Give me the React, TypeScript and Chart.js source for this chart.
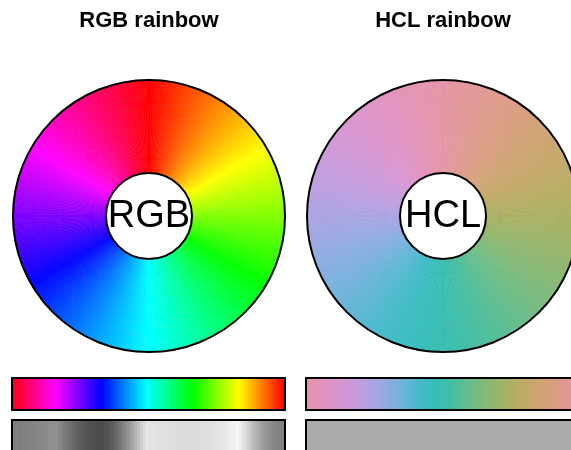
import React, { useEffect, useRef } from "react";
import { Chart, registerables } from "chart.js";
Chart.register(...registerables);

// ---- data ----
const TITLES = ["RGB rainbow", "HCL rainbow"];
const CENTER_LABELS = ["RGB", "HCL"];
const WHEEL_SLICES = 360;
const STRIP_STEPS = 100;
const WHEEL_VALUES: number[] = Array.from({ length: WHEEL_SLICES }, () => 1);
const STRIP_VALUES: number[] = Array.from({ length: STRIP_STEPS }, () => 1);
const HCL_CHROMA = 50;
const HCL_LUMINANCE = 70;

// ---- colour helpers ----
const gam = (v: number) => {
  const c = Math.min(1, Math.max(0, v));
  return c <= 0.0031308 ? 12.92 * c : 1.055 * Math.pow(c, 1 / 2.4) - 0.055;
};
const lin = (v: number) => (v <= 0.04045 ? v / 12.92 : Math.pow((v + 0.055) / 1.055, 2.4));
const toHex = (rgb: number[]) =>
  "#" + rgb.map((v) => Math.round(v * 255).toString(16).padStart(2, "0")).join("");

function hsv(hDeg: number): number[] {
  const hh = ((hDeg % 360) + 360) % 360 / 60;
  const i = Math.floor(hh);
  const f = hh - i;
  const q = 1 - f;
  const t = f;
  const table = [
    [1, t, 0],
    [q, 1, 0],
    [0, 1, t],
    [0, q, 1],
    [t, 0, 1],
    [1, 0, q],
  ];
  return table[i];
}

function hcl(h: number, c: number, l: number): number[] {
  const Xn = 95.047, Yn = 100, Zn = 108.883;
  const den = Xn + 15 * Yn + 3 * Zn;
  const un = (4 * Xn) / den, vn = (9 * Yn) / den;
  const rad = (h * Math.PI) / 180;
  const U = c * Math.cos(rad), V = c * Math.sin(rad);
  const Y = Yn * (l > 8 ? Math.pow((l + 16) / 116, 3) : l / 903.3);
  const up = U / (13 * l) + un, vp = V / (13 * l) + vn;
  const X = (9 * Y * up) / (4 * vp);
  const Z = -X / 3 - 5 * Y + (3 * Y) / vp;
  const x = X / 100, y = Y / 100, z = Z / 100;
  const r = 3.240479 * x - 1.53715 * y - 0.498535 * z;
  const g = -0.969256 * x + 1.875992 * y + 0.041556 * z;
  const b = 0.055648 * x - 0.204043 * y + 1.057311 * z;
  return [gam(r), gam(g), gam(b)];
}

function desat(rgb: number[]): number[] {
  const Y = 0.2126 * lin(rgb[0]) + 0.7152 * lin(rgb[1]) + 0.0722 * lin(rgb[2]);
  const g = gam(Y);
  return [g, g, g];
}

const rgbColor = (i: number, n: number) => hsv((i / n) * 360);
const hclColor = (i: number, n: number) => hcl((i / n) * 360, HCL_CHROMA, HCL_LUMINANCE);
const PALETTES = [rgbColor, hclColor];

const FONT = '"Liberation Sans", Arial, Helvetica, sans-serif';
const OUTER_R = 136;
const INNER_R = 43;

// ---- plugins ----
const ringPlugin = {
  id: "centerRing",
  afterDatasetsDraw(chart: any, _args: any, opts: any) {
    const arc = chart.getDatasetMeta(0).data[0];
    if (!arc) return;
    const { x, y, outerRadius, innerRadius } = arc.getProps(
      ["x", "y", "outerRadius", "innerRadius"],
      true
    );
    const ctx = chart.ctx;
    ctx.save();
    ctx.lineWidth = 2;
    ctx.strokeStyle = "#000";
    ctx.beginPath();
    ctx.arc(x, y, outerRadius, 0, Math.PI * 2);
    ctx.stroke();
    ctx.beginPath();
    ctx.arc(x, y, innerRadius, 0, Math.PI * 2);
    ctx.fillStyle = "#fff";
    ctx.fill();
    ctx.stroke();
    ctx.fillStyle = "#000";
    ctx.font = `38px ${FONT}`;
    ctx.textAlign = "center";
    ctx.textBaseline = "middle";
    ctx.fillText(opts.label, x, y + 1);
    ctx.restore();
  },
};

const framePlugin = {
  id: "frame",
  afterDraw(chart: any) {
    const ctx = chart.ctx;
    ctx.save();
    ctx.lineWidth = 2;
    ctx.strokeStyle = "#000";
    ctx.strokeRect(1, 1, chart.width - 2, chart.height - 2);
    ctx.restore();
  },
};

// ---- components ----
const TITLE_SIZE = 22;
const TITLE_PAD_TOP = 8;
const TITLE_BOX = TITLE_PAD_TOP + TITLE_SIZE * 1.2;

function Wheel({ idx, left }: { idx: number; left: number }) {
  const ref = useRef<HTMLCanvasElement>(null);
  useEffect(() => {
    const pal = PALETTES[idx];
    const colors = WHEEL_VALUES.map((_, i) => toHex(pal(i, WHEEL_SLICES)));
    const chart = new Chart(ref.current!, {
      type: "doughnut",
      data: {
        labels: WHEEL_VALUES.map((_, i) => String(i)),
        datasets: [
          {
            data: WHEEL_VALUES,
            backgroundColor: colors,
            borderColor: colors,
            borderWidth: 0.6,
            hoverOffset: 0,
          } as any,
        ],
      },
      options: {
        animation: false,
        responsive: false,
        events: [],
        radius: OUTER_R,
        cutout: `${(INNER_R / OUTER_R) * 100}%`,
        layout: { padding: { top: 0, bottom: TITLE_BOX, left: 0, right: 0 } },
        plugins: {
          legend: { display: false },
          tooltip: { enabled: false },
          title: {
            display: true,
            text: TITLES[idx],
            color: "#000",
            font: { family: FONT, size: TITLE_SIZE, weight: "bold" },
            padding: { top: TITLE_PAD_TOP, bottom: 0 },
          },
          centerRing: { label: CENTER_LABELS[idx] },
        } as any,
      } as any,
      plugins: [ringPlugin],
    });
    return () => chart.destroy();
  }, [idx]);
  return (
    <canvas
      ref={ref}
      width={300}
      height={432}
      style={{ position: "absolute", left, top: 0, width: 300, height: 432 }}
    />
  );
}

function Strip({ idx, gray, left, top }: { idx: number; gray: boolean; left: number; top: number }) {
  const ref = useRef<HTMLCanvasElement>(null);
  useEffect(() => {
    const pal = PALETTES[idx];
    const colors = STRIP_VALUES.map((_, j) => {
      const c = pal(STRIP_STEPS - 1 - j, STRIP_STEPS);
      return toHex(gray ? desat(c) : c);
    });
    const chart = new Chart(ref.current!, {
      type: "bar",
      data: {
        labels: STRIP_VALUES.map((_, i) => String(i)),
        datasets: [
          {
            data: STRIP_VALUES,
            backgroundColor: colors,
            borderWidth: 0,
            barPercentage: 1,
            categoryPercentage: 1,
          } as any,
        ],
      },
      options: {
        animation: false,
        responsive: false,
        events: [],
        layout: { padding: 0 },
        scales: {
          x: { display: false },
          y: { display: false, min: 0, max: 1 },
        },
        plugins: { legend: { display: false }, tooltip: { enabled: false } },
      } as any,
      plugins: [framePlugin],
    });
    return () => chart.destroy();
  }, [idx, gray]);
  return (
    <canvas
      ref={ref}
      width={275}
      height={34}
      style={{ position: "absolute", left, top, width: 275, height: 34 }}
    />
  );
}

export default function App() {
  return (
    <div
      style={{
        position: "fixed",
        left: 0,
        top: 0,
        width: 571,
        height: 450,
        overflow: "hidden",
        background: "#fff",
      }}
    >
      <Wheel idx={0} left={-1} />
      <Wheel idx={1} left={293} />
      <Strip idx={0} gray={false} left={11} top={377} />
      <Strip idx={0} gray={true} left={11} top={419} />
      <Strip idx={1} gray={false} left={305} top={377} />
      <Strip idx={1} gray={true} left={305} top={419} />
    </div>
  );
}
